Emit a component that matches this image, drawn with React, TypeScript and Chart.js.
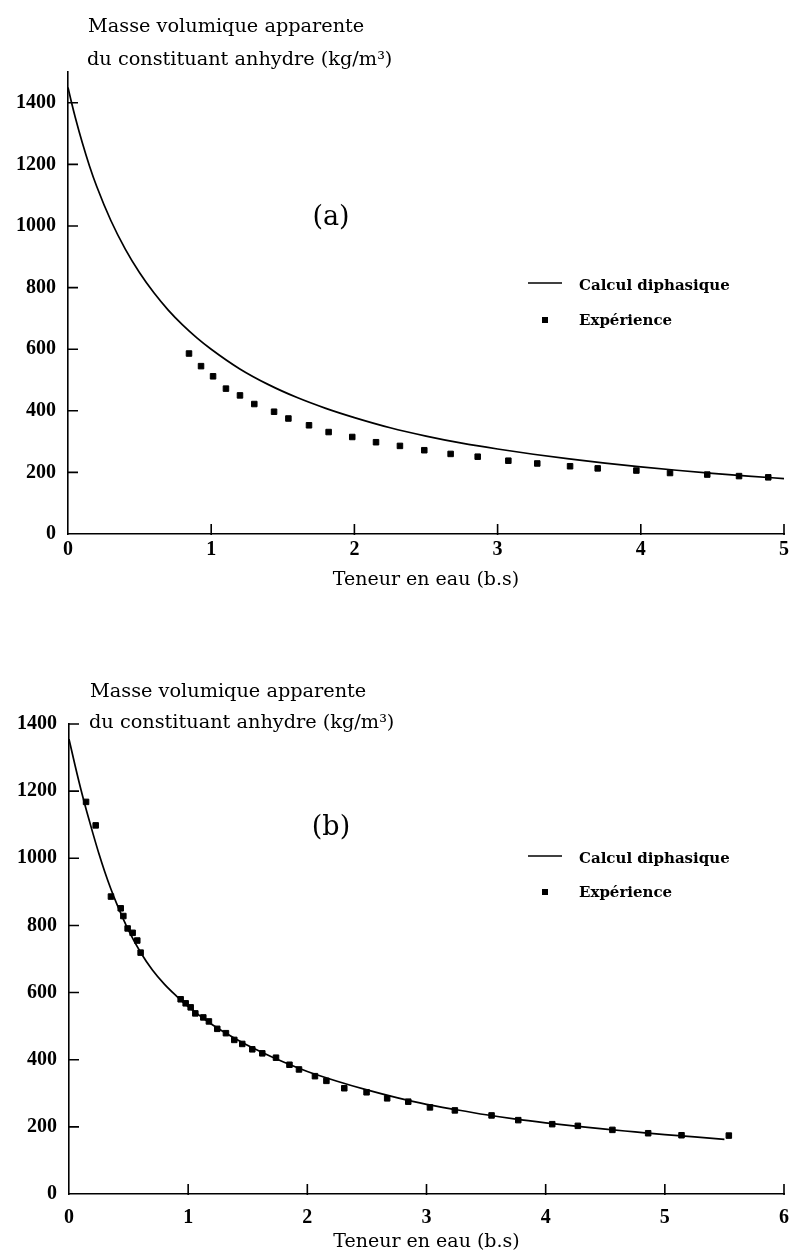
import React, { useEffect, useRef } from 'react';
import { Chart, registerables } from 'chart.js';

Chart.register(...registerables);

// ---------- texts ----------
const HEADER_1 = 'Masse volumique apparente';
const HEADER_2 = 'du constituant anhydre (kg/m³)';
const X_TITLE = 'Teneur en eau (b.s)';
const LEGEND_LINE = 'Calcul diphasique';
const LEGEND_POINTS = 'Expérience';

// ---------- panel (a) data ----------
const xTicksA = [0, 1, 2, 3, 4, 5];
const yTicksA = [0, 200, 400, 600, 800, 1000, 1200, 1400];

const curveXA = [0, 0.025, 0.05, 0.1, 0.15, 0.2, 0.3, 0.4, 0.5, 0.6, 0.7, 0.8, 0.9, 1.0, 1.2, 1.4, 1.6, 1.8, 2.0, 2.25, 2.5, 2.75, 3.0, 3.25, 3.5, 3.75, 4.0, 4.25, 4.5, 4.75, 5.0];
const curveYA = [1450, 1400, 1354, 1270, 1195, 1129, 1017, 925, 848, 783, 727, 679, 637, 600, 536, 485, 443, 408, 378, 345, 318, 295, 276, 259, 244, 230, 218, 207, 197, 188, 180];

const expXA = [0.845, 0.929, 1.013, 1.103, 1.201, 1.301, 1.439, 1.539, 1.683, 1.82, 1.985, 2.151, 2.318, 2.488, 2.672, 2.861, 3.075, 3.277, 3.506, 3.699, 3.969, 4.204, 4.464, 4.686, 4.89];
const expYA = [586, 545, 512, 472, 450, 422, 397, 375, 353, 331, 315, 298, 286, 272, 260, 251, 238, 229, 220, 213, 206, 198, 193, 188, 184];

// ---------- panel (b) data ----------
const xTicksB = [0, 1, 2, 3, 4, 5, 6];
const yTicksB = [0, 200, 400, 600, 800, 1000, 1200, 1400];

const curveXB = [0, 0.05, 0.1, 0.15, 0.2, 0.25, 0.3, 0.35, 0.4, 0.5, 0.6, 0.7, 0.8, 0.9, 1.0, 1.2, 1.4, 1.6, 1.8, 2.0, 2.25, 2.5, 2.75, 3.0, 3.25, 3.5, 3.75, 4.0, 4.25, 4.5, 4.75, 5.0, 5.25, 5.5];
const curveYB = [1355, 1278, 1205, 1138, 1075, 1015, 960, 910, 865, 785, 720, 667, 625, 590, 558, 505, 462, 425, 393, 365, 336, 310, 287, 267, 251, 236, 223, 212, 202, 193, 185, 177, 170, 163];

const expXB = [0.143, 0.224, 0.352, 0.434, 0.456, 0.492, 0.534, 0.573, 0.601, 0.937, 0.979, 1.021, 1.06, 1.127, 1.174, 1.244, 1.317, 1.387, 1.454, 1.538, 1.622, 1.737, 1.85, 1.93, 2.064, 2.16, 2.31, 2.497, 2.67, 2.847, 3.029, 3.238, 3.546, 3.77, 4.055, 4.27, 4.56, 4.86, 5.14, 5.537];
const expYB = [1168, 1098, 886, 851, 828, 791, 778, 755, 719, 580, 568, 556, 538, 526, 514, 492, 479, 459, 447, 431, 419, 406, 385, 371, 351, 337, 315, 303, 285, 275, 258, 249, 234, 220, 208, 203, 191, 181, 175, 174];

const W = 792;

type PanelSpec = {
  label: string;
  canvasTop: number;
  canvasH: number;
  areaTop: number;
  areaLeft: number;
  xAxisH: number;
  xMax: number;
  yMax: number;
  xTicks: number[];
  yTicks: number[];
  curveX: number[];
  curveY: number[];
  expX: number[];
  expY: number[];
  headerX: number;
  header1Y: number;
  header2Y: number;
  labelY: number;
  legendY1: number;
  legendY2: number;
  tickPadX: number;
  titlePad: number;
};

const panels: PanelSpec[] = [
  {
    label: '(a)', canvasTop: 0, canvasH: 600, areaTop: 72, areaLeft: 68, xAxisH: 66,
    xMax: 5, yMax: 1500, xTicks: xTicksA, yTicks: yTicksA,
    curveX: curveXA, curveY: curveYA, expX: expXA, expY: expYA,
    headerX: 88, header1Y: 32, header2Y: 65, labelY: 218, legendY1: 285, legendY2: 320,
    tickPadX: 4, titlePad: 9,
  },
  {
    label: '(b)', canvasTop: 610, canvasH: 645, areaTop: 114, areaLeft: 69, xAxisH: 61,
    xMax: 6, yMax: 1400, xTicks: xTicksB, yTicks: yTicksB,
    curveX: curveXB, curveY: curveYB, expX: expXB, expY: expYB,
    headerX: 90, header1Y: 87, header2Y: 118, labelY: 218, legendY1: 248, legendY2: 282,
    tickPadX: 12, titlePad: 2,
  },
];

const tickFont = { family: '"Liberation Serif", serif', size: 20, weight: 'bold' as const };
const TICK_LEN = 10;

function makeAnnotPlugin(p: PanelSpec) {
  return {
    id: 'annot' + p.label.replace(/[()]/g, ''),
    afterDraw(chart: any) {
      const ctx = chart.ctx as CanvasRenderingContext2D;
      const xs = chart.scales.x;
      const ys = chart.scales.y;
      const area = chart.chartArea;
      ctx.save();
      ctx.fillStyle = '#000';
      ctx.strokeStyle = '#000';

      // inward tick marks, positioned by the chart scales
      ctx.lineWidth = 1.6;
      ctx.beginPath();
      p.xTicks.forEach((v) => {
        if (v === 0) return;
        const px = xs.getPixelForValue(v);
        ctx.moveTo(px, area.bottom + 1);
        ctx.lineTo(px, area.bottom - TICK_LEN);
      });
      p.yTicks.forEach((v) => {
        if (v === 0) return;
        const py = ys.getPixelForValue(v);
        ctx.moveTo(area.left - 1, py);
        ctx.lineTo(area.left + TICK_LEN, py);
      });
      ctx.stroke();

      ctx.textAlign = 'left';
      ctx.textBaseline = 'alphabetic';
      ctx.font = '19.3px "DejaVu Serif", serif';
      ctx.fillText(HEADER_1, p.headerX, p.header1Y);
      ctx.fillText(HEADER_2, p.headerX - 1, p.header2Y);

      ctx.font = '27px "DejaVu Serif", serif';
      ctx.textAlign = 'center';
      ctx.textBaseline = 'middle';
      ctx.fillText(p.label, 331, p.labelY);

      // legend
      ctx.lineWidth = 1.5;
      ctx.beginPath();
      ctx.moveTo(528, p.legendY1 - 2);
      ctx.lineTo(562, p.legendY1 - 2);
      ctx.stroke();
      ctx.fillRect(545 - 3, p.legendY2 - 3, 6, 6);
      ctx.font = 'bold 15px "DejaVu Serif", serif';
      ctx.textAlign = 'left';
      ctx.fillText(LEGEND_LINE, 579, p.legendY1 + 1);
      ctx.fillText(LEGEND_POINTS, 579, p.legendY2 + 1);
      ctx.restore();
    },
  };
}

function Panel({ p }: { p: PanelSpec }) {
  const ref = useRef<HTMLCanvasElement | null>(null);
  useEffect(() => {
    if (!ref.current) return;
    const axisCommon = {
      type: 'linear' as const,
      grid: { display: false, drawOnChartArea: false, drawTicks: false },
      border: { display: true, color: '#000', width: 1.6 },
    };
    const chart = new Chart(ref.current, {
      type: 'scatter',
      data: {
        datasets: [
          {
            label: LEGEND_LINE,
            data: p.curveX.map((x, i) => ({ x, y: p.curveY[i] })),
            showLine: true,
            borderColor: '#000',
            borderWidth: 1.7,
            pointRadius: 0,
            fill: false,
            cubicInterpolationMode: 'monotone',
          },
          {
            label: LEGEND_POINTS,
            data: p.expX.map((x, i) => ({ x, y: p.expY[i] })),
            showLine: false,
            pointStyle: 'rect',
            pointRadius: 3.9,
            backgroundColor: '#000',
            borderColor: '#000',
            borderWidth: 1,
          },
        ],
      },
      options: {
        animation: false,
        responsive: false,
        devicePixelRatio: 1,
        layout: { padding: { top: p.areaTop, right: 8, left: 0, bottom: 0 } },
        plugins: { legend: { display: false }, tooltip: { enabled: false }, title: { display: false } },
        scales: {
          x: {
            ...axisCommon,
            min: 0,
            max: p.xMax,
            afterBuildTicks: (s: any) => { s.ticks = p.xTicks.map((v) => ({ value: v })); },
            afterFit: (s: any) => {
              s.height = p.xAxisH;
              s.paddingLeft = 0;
              s.paddingRight = 0;
            },
            ticks: {
              padding: p.tickPadX, color: '#000', font: tickFont, maxRotation: 0, autoSkip: false,
              callback: (v: any) => String(v),
            },
            title: {
              display: true,
              text: X_TITLE,
              color: '#000',
              font: { family: '"DejaVu Serif", serif', size: 19 },
              padding: { top: 0, bottom: p.titlePad },
            },
          },
          y: {
            ...axisCommon,
            min: 0,
            max: p.yMax,
            afterBuildTicks: (s: any) => { s.ticks = p.yTicks.map((v) => ({ value: v })); },
            afterFit: (s: any) => {
              s.width = p.areaLeft;
              s.paddingTop = 0;
              s.paddingBottom = 0;
            },
            ticks: {
              padding: 12, color: '#000', font: tickFont, autoSkip: false,
              callback: (v: any) => String(v),
            },
          },
        },
      } as any,
      plugins: [makeAnnotPlugin(p)],
    });
    return () => chart.destroy();
  }, [p]);
  return (
    <canvas
      ref={ref}
      width={W}
      height={p.canvasH}
      style={{ position: 'absolute', left: 0, top: p.canvasTop, width: W, height: p.canvasH, display: 'block' }}
    />
  );
}

export default function App() {
  return (
    <div style={{ position: 'absolute', left: 0, top: 0, width: W, height: 1255, background: '#fff', overflow: 'hidden' }}>
      {panels.map((p) => (
        <Panel key={p.label} p={p} />
      ))}
    </div>
  );
}
